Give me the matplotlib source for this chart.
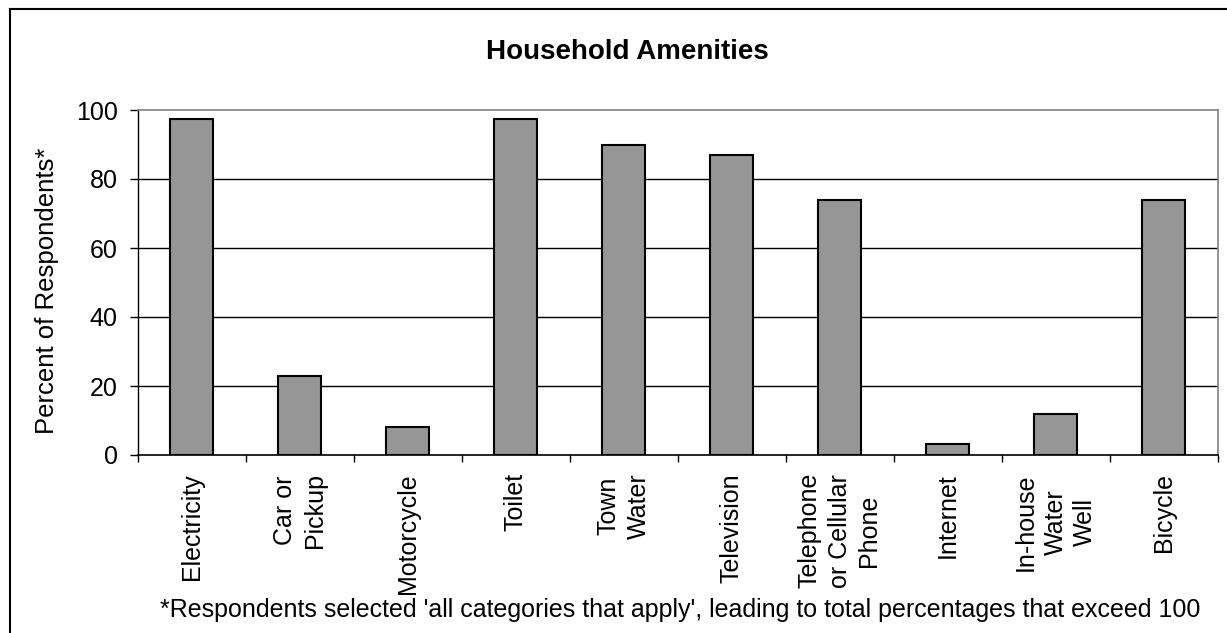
import matplotlib
matplotlib.use("Agg")
import matplotlib.pyplot as plt
from matplotlib.lines import Line2D
import numpy as np

categories = ["Electricity", "Car or\nPickup", "Motorcycle", "Toilet", "Town\nWater",
              "Television", "Telephone\nor Cellular\nPhone", "Internet",
              "In-house\nWater\nWell", "Bicycle"]
values = [97.5, 23, 8, 97.5, 90, 87, 74, 3.2, 12, 74]
yticks = [0, 20, 40, 60, 80, 100]

W, H = 1227, 633
plt.rcParams['font.family'] = ['Liberation Sans', 'DejaVu Sans']
fig = plt.figure(figsize=(W / 100, H / 100), dpi=100)
ax = fig.add_axes([137.7 / W, 1 - 455 / H, (1217.5 - 137.7) / W, (455 - 110) / H])

x = np.arange(len(categories))
ax.bar(x, values, width=0.4, color="#969696", edgecolor="black", linewidth=1.5, zorder=3)

ax.set_xlim(-0.5, len(categories) - 0.5)
ax.set_ylim(0, 100)
ax.set_yticks(yticks)
ax.set_yticklabels([str(v) for v in yticks], fontsize=18)
for v in yticks[1:-1]:
    ax.axhline(v, color="black", linewidth=1, zorder=1)

ax.set_xticks(x)
ax.set_xticklabels(categories, rotation=90, fontsize=18, va="top", ha="center",
                   multialignment="center", linespacing=1.3)
ax.tick_params(axis="x", which="major", length=0, pad=13)
ax.set_xticks(np.arange(len(categories) + 1) - 0.5, minor=True)
ax.tick_params(axis="x", which="minor", length=5, width=1, direction="out", color="black")
ax.tick_params(axis="y", length=5.5, width=1, direction="out", pad=9, color="black")

for s in ["top", "right"]:
    ax.spines[s].set_color("#808080")
    ax.spines[s].set_linewidth(1.2)
ax.spines["left"].set_color("black")
ax.spines["bottom"].set_color("black")
ax.spines["left"].set_linewidth(1)
ax.spines["bottom"].set_linewidth(1.2)

fig.text(627 / W, 1 - 52 / H, "Household Amenities", ha="center", va="center",
         fontsize=20, fontweight="bold")
fig.text(47 / W, 1 - 291 / H, "Percent of Respondents*", ha="center", va="center",
         rotation=90, fontsize=18.5)
fig.text(680 / W, 1 - 610 / H,
         "*Respondents selected 'all categories that apply', leading to total percentages that exceed 100",
         ha="center", va="center", fontsize=18)

# outer frame (top and left edges visible)
fig.add_artist(Line2D([10 / W, 1.0], [1 - 9 / H, 1 - 9 / H], transform=fig.transFigure,
                      color="black", linewidth=1.5))
fig.add_artist(Line2D([10 / W, 10 / W], [0.0, 1 - 9 / H], transform=fig.transFigure,
                      color="black", linewidth=1.5))

fig.savefig("out.png", dpi=100)
